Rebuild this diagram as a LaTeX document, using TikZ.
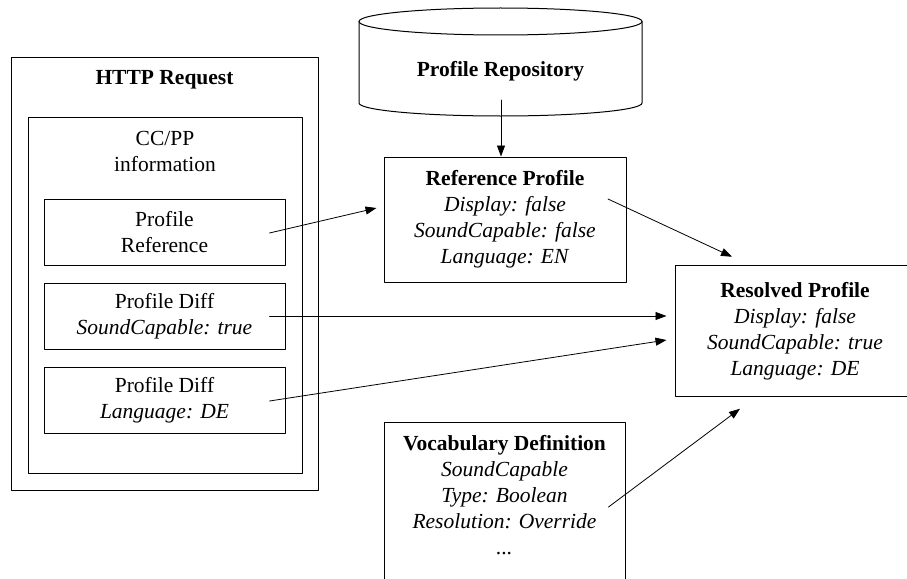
\documentclass[tikz,border=0pt]{standalone}
\usepackage{fontspec}
\setmainfont{Liberation Serif}
\usetikzlibrary{arrows.meta,calc,positioning}
\tikzset{
  box/.style={draw,line width=1pt,align=center,inner sep=0pt},
  link/.style={line width=0.8pt,-{Triangle[length=11pt,width=8pt]}},
  every node/.style={font=\fontsize{21.5}{26}\selectfont}
}

\begin{document}
\begin{tikzpicture}[x=1pt,y=-1pt,line cap=round,line join=round]
  % ---- drawing window (pixel grid of the screenshot) ----
  \useasboundingbox (0,0) rectangle (907,578);
  \clip (0,0) rectangle (907,578);

  % ---- HTTP request with its CC/PP parts ----
  \node[box,minimum width=307,minimum height=432] (http) at (164.5,274) {};
  \node (httptitle) at (164.5,80) {\textbf{HTTP Request}};
  \node[box,minimum width=274,minimum height=356] (ccpp) at (165,295) {};
  \node[align=center] (ccpptitle) at (165,151) {CC/PP\\information};
  \node[box,minimum width=241,minimum height=66] (profref) at (164.5,232)
    {Profile\\Reference};
  \node[box,minimum width=241,minimum height=66,below=17pt of profref] (diff1)
    {Profile Diff\\\textit{SoundCapable: true}};
  \node[box,minimum width=241,minimum height=66,below=17pt of diff1] (diff2)
    {Profile Diff\\\textit{Language: DE}};

  % ---- profile repository (cylinder) ----
  \draw[line width=1pt] (359,21.5) -- (359,103)
    arc[start angle=180,end angle=360,x radius=141.5pt,y radius=13pt] -- (642,21.5);
  \draw[line width=1pt] (500.5,21.5) ellipse [x radius=141.5pt,y radius=13.5pt];
  \node (repo) at (500.5,71) {\textbf{Profile Repository}};
  \coordinate (repobase) at (501,100);

  % ---- profiles ----
  \node[box,minimum width=242,minimum height=125] (refprof) at (505,219.5)
    {\textbf{Reference Profile}\\\textit{Display: false}\\
     \textit{SoundCapable: false}\\\textit{Language: EN}};
  \node[box,minimum width=240,minimum height=131.5] (resolved) at (795,331)
    {\textbf{Resolved Profile}\\\textit{Display: false}\\
     \textit{SoundCapable: true}\\\textit{Language: DE}};

  % ---- vocabulary (box runs off the bottom edge) ----
  \node[box,minimum width=241,minimum height=170,anchor=north] (vocab) at (504.5,422) {};
  \node[align=center] (vocabtxt) at (504.5,495)
    {\textbf{Vocabulary Definition}\\\textit{SoundCapable}\\\textit{Type: Boolean}\\
     \textit{Resolution: Override}\\\textit{...}};

  % ---- connectors ----
  \draw[link] (repobase) -- (repobase |- refprof.north);
  \draw[link] ($(profref.east)+(-16,1)$) -- ($(refprof.west)+(-7,-11.5)$);
  \draw[link] ($(refprof.center)+(103,-20.5)$) -- ($(resolved.north)+(-63,-8)$);
  \draw[link] ($(diff1.east)+(-16,0)$) -- (diff1.east -| {$(resolved.west)+(-8,0)$});
  \draw[link] ($(diff2.east)+(-16,1)$) -- ($(resolved.west)+(-8,9)$);
  \draw[link] ($(vocab.north east)+(-17,85)$) -- ($(resolved.south)+(-55,11.5)$);
\end{tikzpicture}
\end{document}
